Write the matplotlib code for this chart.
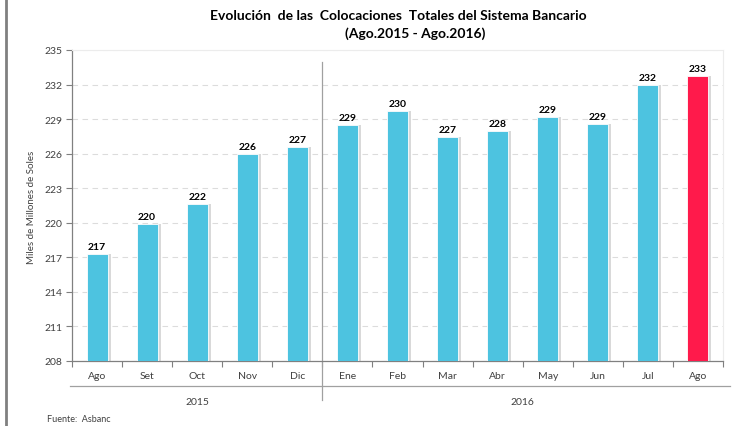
import matplotlib
matplotlib.use("Agg")
import matplotlib.pyplot as plt
from matplotlib.lines import Line2D
from matplotlib.transforms import blended_transform_factory

months = ["Ago", "Set", "Oct", "Nov", "Dic", "Ene", "Feb", "Mar", "Abr", "May", "Jun", "Jul", "Ago"]
values = [217.26, 219.88, 221.67, 226.0, 226.55, 228.52, 229.74, 227.44, 227.95, 229.2, 228.6, 231.96, 232.77]
years = ["2015", "2016"]
year_spans = [(0, 4), (5, 12)]
yticks = [208, 211, 214, 217, 220, 223, 226, 229, 232, 235]

plt.rcParams['font.family'] = ['Lato', 'DejaVu Sans']

fig = plt.figure(figsize=(7.43, 4.27), dpi=100)
ax = fig.add_axes([72/743, 1-362/427, (723-72)/743, (362-51)/427])

blue = "#4DC3E0"
red = "#FF1A4B"
colors = [blue]*(len(values)-1) + [red]
x = list(range(len(values)))
w = 0.42
# shadow
ax.bar([xi + 0.06 for xi in x], [v - 208 for v in values], width=w, bottom=208,
       color="#d9d9d9", zorder=2)
ax.bar(x, [v - 208 for v in values], width=w, bottom=208, color=colors, zorder=3,
       edgecolor="white", linewidth=0.6)

for xi, v in zip(x, values):
    ax.text(xi, v + 0.25, f"{v:.0f}", ha="center", va="bottom", fontsize=7.5,
            fontweight="bold", color="black", zorder=4)

ax.set_xlim(-0.5, len(values) - 0.5)
ax.set_ylim(208, 235)
ax.set_yticks(yticks)
ax.set_yticklabels([str(t) for t in yticks], fontsize=7.5, color="#404040")
ax.yaxis.grid(True, linestyle=(0, (5, 4)), color="#dcdcdc", linewidth=0.8, zorder=0)
ax.set_axisbelow(True)

ax.set_xticks([i - 0.5 for i in range(len(values) + 1)])
ax.set_xticklabels([])
ax.tick_params(axis="x", direction="out", length=4, color="#7f7f7f", width=0.8)
ax.tick_params(axis="y", direction="out", length=4, color="#7f7f7f", width=0.8, pad=3)

for s in ["left", "bottom"]:
    ax.spines[s].set_color("#808080")
    ax.spines[s].set_linewidth(0.9)
for s in ["top", "right"]:
    ax.spines[s].set_color("#ececec")
    ax.spines[s].set_linewidth(0.8)

trans = blended_transform_factory(ax.transData, ax.transAxes)
for xi, m in zip(x, months):
    ax.text(xi, -0.048, m, transform=trans, ha="center", va="center", fontsize=7.5, color="#404040")

# group line and separator
ax.add_line(Line2D([-0.54, 12.63], [-0.080, -0.080], transform=trans, color="#a0a0a0",
                   linewidth=0.9, clip_on=False))
ax.add_line(Line2D([4.5, 4.5], [0.961, -0.125], transform=trans, color="#a0a0a0",
                   linewidth=0.9, clip_on=False))
for yl, (a, b) in zip(years, year_spans):
    ax.text((a + b) / 2, -0.129, yl, transform=trans, ha="center", va="center",
            fontsize=7.5, color="#404040")

fig.text(32/743, 1-207/427, "Miles de Millones de Soles", rotation=90, ha="center", va="center",
         fontsize=7, color="#404040")

fig.text(398/743, 1-16/427, "Evolución  de las  Colocaciones  Totales del Sistema Bancario",
         ha="center", va="center", fontsize=10, fontweight="bold", color="black")
fig.text(415/743, 1-34/427, "(Ago.2015 - Ago.2016)", ha="center", va="center",
         fontsize=10, fontweight="bold", color="black")
fig.text(47/743, 1-420/427, "Fuente:  Asbanc", ha="left", va="center", fontsize=6.5, color="#404040")

fig.add_artist(Line2D([6/743, 6/743], [0, 1], transform=fig.transFigure, color="#808080", linewidth=2))

fig.savefig("out.png", dpi=100)
